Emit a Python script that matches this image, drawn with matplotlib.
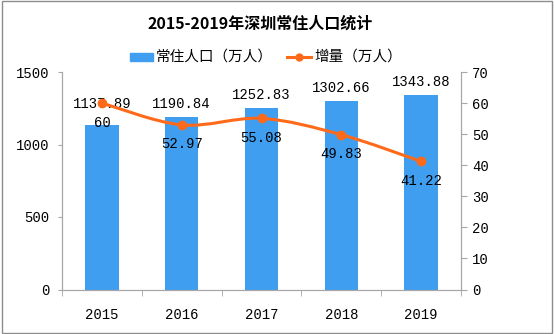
import matplotlib
matplotlib.use('Agg')
import matplotlib.pyplot as plt
from matplotlib.path import Path
from matplotlib.patches import PathPatch, Rectangle
import numpy as np

years = ['2015', '2016', '2017', '2018', '2019']
population = [1137.89, 1190.84, 1252.83, 1302.66, 1343.88]
increase = [60, 52.97, 55.08, 49.83, 41.22]

bar_color = '#3f9ef0'
line_color = '#ff6a1a'
axis_color = '#a6a6a6'
cjk = ['Noto Sans CJK SC', 'DejaVu Sans']
num_font = 'Liberation Mono'

plt.rcParams['font.family'] = cjk

fig = plt.figure(figsize=(5.54, 3.34), dpi=100)
fig.patches.append(Rectangle((0.003, 0.003), 0.994, 0.994, transform=fig.transFigure,
                             fill=False, edgecolor='#8c8c8c', linewidth=1))

ax = fig.add_axes([62 / 554, (334 - 289.5) / 334, (461 - 62) / 554, 217.5 / 334])
ax2 = ax.twinx()

x = np.arange(len(years))
ax.bar(x, population, width=0.42, color=bar_color, zorder=2)
ax.set_xlim(-0.5, len(years) - 0.5)
ax.set_ylim(0, 1500)
ax.set_yticks([0, 500, 1000, 1500])
ax.set_xticks(x)
ax.set_xticklabels(years, fontfamily=num_font, fontsize=10)
ax.set_xticks(np.arange(-0.5, len(years), 1), minor=True)
ax.tick_params(axis='x', which='major', length=0, pad=13)
ax.tick_params(axis='x', which='minor', length=4, color=axis_color, direction='out')
ax.tick_params(axis='y', length=3, color=axis_color, direction='out', pad=6)
for lbl in ax.get_yticklabels():
    lbl.set_fontfamily(num_font)
    lbl.set_fontsize(10)

# bar value labels (first one sits a little higher, as in the original)
bar_lift = [10, 4, 4, 4, 4]
for i, v in enumerate(population):
    ax.annotate(f'{v:.2f}', (x[i], v), xytext=(0, bar_lift[i]), textcoords='offset points',
                ha='center', va='bottom', fontfamily=num_font, fontsize=10, zorder=5)

# smooth line through the points (Bezier segments, Catmull-Rom style)
pts = np.column_stack([x, increase]).astype(float)
verts = [tuple(pts[0])]
codes = [Path.MOVETO]
for i in range(len(pts) - 1):
    p0 = pts[i - 1] if i > 0 else pts[i]
    p1, p2 = pts[i], pts[i + 1]
    p3 = pts[i + 2] if i + 2 < len(pts) else pts[i + 1]
    c1 = p1 + (p2 - p0) / 6
    c2 = p2 - (p3 - p1) / 6
    verts += [tuple(c1), tuple(c2), tuple(p2)]
    codes += [Path.CURVE4] * 3
ax2.add_patch(PathPatch(Path(verts, codes), facecolor='none', edgecolor=line_color,
                        linewidth=2.2, zorder=3))
ax2.plot(x, increase, 'o', color=line_color, markersize=6, zorder=4)

ax2.set_ylim(0, 70)
ax2.set_yticks(range(0, 71, 10))
ax2.tick_params(axis='y', length=4, color=axis_color, direction='out', pad=4)
for lbl in ax2.get_yticklabels():
    lbl.set_fontfamily(num_font)
    lbl.set_fontsize(10)

for i, v in enumerate(increase):
    ax2.annotate(f'{v:g}', (x[i], v), xytext=(0, -9), textcoords='offset points',
                 ha='center', va='top', fontfamily=num_font, fontsize=10, zorder=5)

for a in (ax, ax2):
    a.spines['top'].set_visible(False)
    for side in ('left', 'right', 'bottom'):
        a.spines[side].set_color(axis_color)

fig.text(0.47, 0.93, '2015-2019年深圳常住人口统计', ha='center', va='center',
         fontsize=11.5, fontweight='bold')

# legend
fig.patches.append(Rectangle((130 / 554, 1 - 61 / 334), 23 / 554, 8 / 334,
                             transform=fig.transFigure, color=bar_color))
fig.text(156 / 554, 1 - 57 / 334, '常住人口（万人）', ha='left', va='center', fontsize=10.5)
fig.lines.append(plt.Line2D([287 / 554, 311 / 554], [1 - 57 / 334, 1 - 57 / 334],
                            transform=fig.transFigure, color=line_color, linewidth=2.2))
fig.lines.append(plt.Line2D([299 / 554], [1 - 57 / 334], transform=fig.transFigure,
                            color=line_color, marker='o', markersize=5))
fig.text(314 / 554, 1 - 57 / 334, '增量（万人）', ha='left', va='center', fontsize=10.5)

plt.savefig('out.png', dpi=100)
